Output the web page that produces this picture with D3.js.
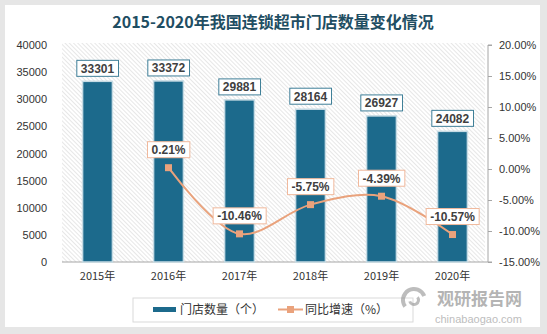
<!DOCTYPE html>
<html><head><meta charset="utf-8">
<script src="https://cdn.jsdelivr.net/npm/d3@7"></script>
<style>body{margin:0;background:#e6e6e6;}svg{display:block;}text{font-family:"Noto Sans CJK SC","Noto Sans",sans-serif;}</style>
</head><body><svg id="c" width="547" height="334"></svg>
<script>
const categories = ["2015年","2016年","2017年","2018年","2019年","2020年"];
const stores = [33301,33372,29881,28164,26927,24082];
const growth = [null,0.21,-10.46,-5.75,-4.39,-10.57];
const leftTicks = [0,5000,10000,15000,20000,25000,30000,35000,40000];
const rightTicks = [-15,-10,-5,0,5,10,15,20];
const title = "2015-2020年我国连锁超市门店数量变化情况";
const legendLabels = ["门店数量（个）","同比增速（%）"];

const svg = d3.select("#c");
const W=547,H=334;
const numFont = '"Liberation Sans","DejaVu Sans",sans-serif';
svg.append("rect").attr("width",W).attr("height",H).attr("fill","#e6e6e6");
svg.append("rect").attr("x",5).attr("y",5).attr("width",535).attr("height",322).attr("fill","#fff");

const defs = svg.append("defs");
const pat = defs.append("pattern").attr("id","hatch").attr("patternUnits","userSpaceOnUse")
  .attr("width",3).attr("height",3).attr("patternTransform","rotate(-45)");
pat.append("line").attr("x1",0).attr("y1",0).attr("x2",0).attr("y2",3).attr("stroke","#d6d6d6").attr("stroke-width",1.2);

const x0=62,x1=488,yTop=45,yBot=262;
const x = d3.scaleBand().domain(categories).range([x0,x1]).paddingInner(0.58).paddingOuter(0.29);
const yL = d3.scaleLinear().domain([0,40000]).range([yBot,yTop]);
const yR = d3.scaleLinear().domain([-15,20]).range([yBot,yTop]);

svg.append("rect").attr("x",x0).attr("y",43).attr("width",x1-x0-3).attr("height",yBot-43).attr("fill","url(#hatch)");

svg.append("text").attr("x",273).attr("y",28).attr("text-anchor","middle")
  .attr("font-size",16).attr("font-weight","bold").attr("fill","#1f4e63").text(title);

// left axis
const la = svg.append("g").attr("transform",`translate(${x0},0)`)
  .call(d3.axisLeft(yL).tickValues(leftTicks).tickSize(0).tickPadding(15).tickFormat(d3.format("d")));
la.select(".domain").remove();
la.selectAll("text").attr("font-size",11).attr("fill","#333").style("font-family",numFont);

// right axis
const ra = svg.append("g").attr("transform",`translate(${x1},0)`)
  .call(d3.axisRight(yR).tickValues(rightTicks).tickSize(4).tickPadding(7).tickFormat(d=>d.toFixed(2)+"%"));
ra.select(".domain").attr("stroke","#a6a6a6").attr("d",`M4,${yTop}H0V${yBot}H4`);
ra.selectAll("line").attr("stroke","#a6a6a6");
ra.selectAll("text").attr("font-size",11).attr("fill","#333").style("font-family",numFont);

// x axis
const xa = svg.append("g").attr("transform",`translate(0,${yBot})`)
  .call(d3.axisBottom(x).tickSize(0).tickPadding(10));
xa.select(".domain").attr("stroke","#a6a6a6").attr("d",`M${x0},0H${x1}`);
xa.selectAll("text").attr("font-size",11).attr("fill","#333");

// bars
svg.append("g").selectAll("rect").data(stores).join("rect")
  .attr("x",(d,i)=>x(categories[i])).attr("y",d=>yL(d))
  .attr("width",x.bandwidth()).attr("height",d=>yBot-yL(d))
  .attr("fill","#1c6a8c").attr("stroke","#c6dbe4").attr("stroke-width",1.5);

function boxLabel(g, stroke){
  g.each(function(){
    const gg = d3.select(this);
    const t = gg.select("text").node().getBBox();
    gg.insert("rect","text").attr("x",t.x-4).attr("y",-8).attr("width",t.width+8).attr("height",16)
      .attr("fill","#fff").attr("stroke",stroke).attr("stroke-width",1);
  });
}

// bar labels
const bl = svg.append("g").selectAll("g").data(stores).join("g")
  .attr("transform",(d,i)=>`translate(${x(categories[i])+x.bandwidth()/2},${yL(d)-13})`);
bl.append("text").attr("text-anchor","middle").attr("dy","0.36em").attr("font-size",12)
  .attr("font-weight","bold").attr("fill","#404040").style("font-family",numFont).text(d=>d);
boxLabel(bl,"#3f7f98");

// line
const pts = growth.map((g,i)=>({g,c:categories[i]})).filter(d=>d.g!==null);
const line = d3.line().x(d=>x(d.c)+x.bandwidth()/2).y(d=>yR(d.g)).curve(d3.curveCatmullRom.alpha(0.5));
svg.append("path").datum(pts).attr("d",line).attr("fill","none").attr("stroke","#e9a27c").attr("stroke-width",2);
svg.append("g").selectAll("rect").data(pts).join("rect")
  .attr("x",d=>x(d.c)+x.bandwidth()/2-3.5).attr("y",d=>yR(d.g)-3.5).attr("width",7).attr("height",7)
  .attr("fill","#eaa27c");

const gl = svg.append("g").selectAll("g").data(pts).join("g")
  .attr("transform",d=>`translate(${x(d.c)+x.bandwidth()/2},${yR(d.g)-18})`);
gl.append("text").attr("text-anchor","middle").attr("dy","0.36em").attr("font-size",12)
  .attr("font-weight","bold").attr("fill","#404040").style("font-family",numFont).text(d=>d.g.toFixed(2)+"%");
boxLabel(gl,"#f0b99c");

// legend
svg.append("rect").attr("x",133).attr("y",298).attr("width",280).attr("height",24)
  .attr("fill","#fff").attr("stroke","#d9d9d9");
svg.append("rect").attr("x",153).attr("y",307).attr("width",23).attr("height",5).attr("fill","#1c6a8c");
svg.append("text").attr("x",180).attr("y",314).attr("font-size",12).attr("fill","#333").text(legendLabels[0]);
svg.append("line").attr("x1",278).attr("x2",303).attr("y1",309.5).attr("y2",309.5).attr("stroke","#e9a27c").attr("stroke-width",2);
svg.append("rect").attr("x",287).attr("y",306).attr("width",7).attr("height",7).attr("fill","#eaa27c");
svg.append("text").attr("x",305).attr("y",314).attr("font-size",12).attr("fill","#333").text(legendLabels[1]);

// watermark
const wm = svg.append("g").attr("opacity",0.55);
wm.append("path").attr("d",d3.arc()({innerRadius:9,outerRadius:13,startAngle:-2.2,endAngle:1.2}))
  .attr("transform","translate(414,300)").attr("fill","#888");
wm.append("path").attr("d",d3.arc()({innerRadius:3,outerRadius:6,startAngle:0.9,endAngle:4.4}))
  .attr("transform","translate(414,300)").attr("fill","#888");
wm.append("text").attr("x",437).attr("y",305).attr("font-size",17).attr("font-weight","bold").attr("fill","#777").text("观研报告网");
wm.append("text").attr("x",435).attr("y",323).attr("font-size",11).attr("fill","#888").style("font-family",numFont).text("chinabaogao.com");
</script></body></html>
